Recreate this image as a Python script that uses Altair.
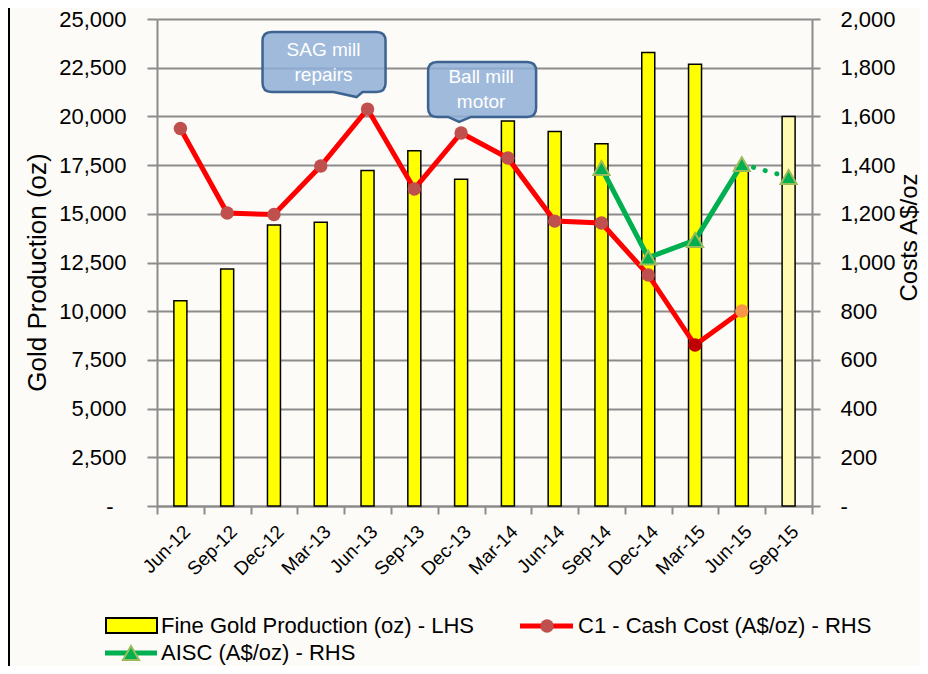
import altair as alt
import pandas as pd

# ---------------- data ----------------
periods = ["Jun-12", "Sep-12", "Dec-12", "Mar-13", "Jun-13", "Sep-13", "Dec-13",
           "Mar-14", "Jun-14", "Sep-14", "Dec-14", "Mar-15", "Jun-15", "Sep-15"]
gold_oz = [10540, 12170, 14430, 14570, 17220, 18240, 16770,
           19760, 19220, 18590, 23280, 22680, 17350, 20000]
forecast_periods = ["Sep-15"]

c1_periods = periods[:13]
c1_cost = [1550, 1203, 1197, 1396, 1630, 1302, 1532, 1429, 1170, 1162, 949, 661, 801]

aisc_periods = ["Sep-14", "Dec-14", "Mar-15", "Jun-15"]
aisc_cost = [1388, 1020, 1092, 1404]
aisc_fc_periods = ["Jun-15", "Sep-15"]
aisc_fc_cost = [1404, 1351]

annot_periods = ["Jun-13", "Dec-13"]
annot_texts = ["SAG mill\nrepairs", "Ball mill\nmotor"]

legend_labels = ["Fine Gold Production (oz) - LHS",
                 "C1 - Cash Cost (A$/oz) - RHS",
                 "AISC (A$/oz) - RHS"]

left_title = "Gold Production (oz)"
right_title = "Costs A$/oz"

# ---------------- styles ----------------
FONT = "Liberation Sans"
GRID = "#8c8c8c"
BG = "#fcfbf7"
W, H = 655, 487

gold_df = pd.DataFrame({
    "period": periods,
    "oz": gold_oz,
    "kind": ["Forecast" if p in forecast_periods else "Actual" for p in periods],
})
c1_df = pd.DataFrame({"period": c1_periods, "cost": c1_cost})
point_color = {"Mar-15": "#c00000", "Jun-15": "#f79646"}
c1_df["pc"] = [p if p in point_color else "other" for p in c1_periods]
aisc_df = pd.DataFrame({"period": aisc_periods, "cost": aisc_cost})
aisc_fc_df = pd.DataFrame({"period": aisc_fc_periods, "cost": aisc_fc_cost})
ann_df = pd.DataFrame({
    "period": annot_periods,
    "cost": [c1_cost[c1_periods.index(p)] for p in annot_periods],
    "text": annot_texts,
})

xscale = alt.Scale(domain=periods, paddingInner=0, paddingOuter=0)
x_axis = alt.Axis(title=None, labelAngle=-45, labelAlign="right", labelBaseline="top",
                  labelFont=FONT, labelFontSize=19, labelColor="#000",
                  tickBand="extent", tickColor=GRID, tickSize=8, tickWidth=2,
                  domainColor=GRID, domainWidth=2, labelPadding=8, grid=False)
X = alt.X("period:N", sort=periods, scale=xscale, axis=x_axis)

yl_scale = alt.Scale(domain=[0, 25000], nice=False, zero=True)
yr_scale = alt.Scale(domain=[0, 2000], nice=False, zero=True)

left_axis = alt.Axis(
    title=left_title, values=list(range(0, 25001, 2500)),
    labelExpr="datum.value == 0 ? '-' : format(datum.value, ',')",
    labelFont=FONT, labelFontSize=22, labelColor="#000",
    labelPadding={"condition": {"test": "datum.value == 0", "value": 34}, "value": 21},
    tickColor=GRID, tickSize=10, tickWidth=2, domainColor=GRID, domainWidth=2,
    grid=True, gridColor=GRID, gridWidth=2,
    titleFont=FONT, titleFontSize=26, titleFontWeight="normal", titleColor="#000",
    titleAngle=-90, titleX=-112, titleY=253, titleAlign="center", titleBaseline="alphabetic",
)
right_axis = alt.Axis(
    title=right_title, orient="right", values=list(range(0, 2001, 200)),
    labelExpr="datum.value == 0 ? '-' : format(datum.value, ',')",
    labelFont=FONT, labelFontSize=22, labelColor="#000", labelPadding=20,
    tickColor=GRID, tickSize=8, tickWidth=2, domainColor=GRID, domainWidth=2,
    grid=False,
    titleFont=FONT, titleFontSize=24, titleFontWeight="normal", titleColor="#000",
    titleAngle=-90, titleX=104, titleY=218, titleAlign="center", titleBaseline="alphabetic",
)

bars = alt.Chart(gold_df).mark_bar(width=13, stroke="#000", strokeWidth=1.5).encode(
    x=X,
    y=alt.Y("oz:Q", scale=yl_scale, axis=left_axis),
    fill=alt.Fill("kind:N", scale=alt.Scale(domain=["Actual", "Forecast"],
                                            range=["#ffff00", "#fffab0"]), legend=None),
)

YR = alt.Y("cost:Q", scale=yr_scale, axis=right_axis)

c1_line = alt.Chart(c1_df).mark_line(color="#ff0000", strokeWidth=5).encode(x=X, y=YR)
c1_pts = alt.Chart(c1_df).mark_point(filled=True, size=180, opacity=1).encode(
    x=X, y=YR,
    color=alt.Color("pc:N", scale=alt.Scale(domain=list(point_color) + ["other"],
                                            range=list(point_color.values()) + ["#c0504d"]),
                    legend=None),
)
aisc_line = alt.Chart(aisc_df).mark_line(color="#00b050", strokeWidth=5).encode(x=X, y=YR)
aisc_fc = alt.Chart(aisc_fc_df).mark_line(color="#00b050", strokeWidth=5,
                                           strokeDash=[0.1, 12], strokeCap="round").encode(x=X, y=YR)
aisc_pts = alt.Chart(pd.concat([aisc_df, aisc_fc_df.iloc[1:]])).mark_point(
    shape="triangle-up", filled=True, size=260, fill="#00b050", stroke="#9bbb59",
    strokeWidth=2, opacity=1).encode(x=X, y=YR)


def callout(L, R, T, B, bl, br, tx, ty, r=9):
    s = 100.0
    f = lambda v: f"{v / s:.3f}"
    return (f"M{f(L + r)},{f(T)} L{f(R - r)},{f(T)} Q{f(R)},{f(T)} {f(R)},{f(T + r)} "
            f"L{f(R)},{f(B - r)} Q{f(R)},{f(B)} {f(R - r)},{f(B)} L{f(br)},{f(B)} "
            f"L{f(tx)},{f(ty)} L{f(bl)},{f(B)} L{f(L + r)},{f(B)} "
            f"Q{f(L)},{f(B)} {f(L)},{f(B - r)} L{f(L)},{f(T + r)} Q{f(L)},{f(T)} {f(L + r)},{f(T)} Z")


shapes = [callout(-105, 18, -77, -17, -34, -5, -11, -12),
          callout(-33, 75, -71, -16, -13, 10, -2, -11)]
text_offsets = [(-44, -59), (20, -56)]

ann_layers = []
for i, p in enumerate(annot_periods):
    d = ann_df[ann_df["period"] == p]
    box = alt.Chart(d).mark_point(shape=shapes[i], size=40000, filled=True,
                                  fill="#8eaed6", fillOpacity=0.85, stroke="#3d6391",
                                  strokeWidth=2.5, opacity=1).encode(x=X, y=YR)
    txt = alt.Chart(d).mark_text(font=FONT, fontSize=19, color="#ffffff", lineBreak="\n",
                                 lineHeight=25, align="center", baseline="middle",
                                 dx=text_offsets[i][0], dy=text_offsets[i][1]).encode(
        x=X, y=YR, text="text:N")
    ann_layers += [box, txt]

# ---------------- legend ----------------
one = pd.DataFrame({"k": [0]})
LFS = 22
ROW1, ROW2 = 607, 634
leg_rect = alt.Chart(one).mark_rect(fill="#ffff00", stroke="#000", strokeWidth=2).encode(
    x=alt.value(-51), x2=alt.value(0), y=alt.value(ROW1 - 8), y2=alt.value(ROW1 + 7))
leg_t1 = alt.Chart(one).mark_text(text=legend_labels[0], font=FONT, fontSize=LFS, align="left",
                                  baseline="middle", color="#000").encode(
    x=alt.value(4), y=alt.value(ROW1))
leg_red = alt.Chart(one).mark_rule(color="#ff0000", strokeWidth=5).encode(
    x=alt.value(363), x2=alt.value(416), y=alt.value(ROW1))
leg_redpt = alt.Chart(one).mark_point(filled=True, size=180, color="#c0504d", opacity=1).encode(
    x=alt.value(390), y=alt.value(ROW1))
leg_t2 = alt.Chart(one).mark_text(text=legend_labels[1], font=FONT, fontSize=LFS, align="left",
                                  baseline="middle", color="#000").encode(
    x=alt.value(421), y=alt.value(ROW1))
leg_green = alt.Chart(one).mark_rule(color="#00b050", strokeWidth=5).encode(
    x=alt.value(-52), x2=alt.value(0), y=alt.value(ROW2))
leg_tri = alt.Chart(one).mark_point(shape="triangle-up", filled=True, size=260, fill="#00b050",
                                    stroke="#9bbb59", strokeWidth=2, opacity=1).encode(
    x=alt.value(-26), y=alt.value(ROW2))
leg_t3 = alt.Chart(one).mark_text(text=legend_labels[2], font=FONT, fontSize=LFS, align="left",
                                  baseline="middle", color="#000").encode(
    x=alt.value(4), y=alt.value(ROW2))

# frame line at the left edge of the picture
frame = alt.Chart(one).mark_rule(color="#000", strokeWidth=2).encode(
    x=alt.value(-148), y=alt.value(-11), y2=alt.value(H + 160))

right_layer = alt.layer(c1_line, c1_pts, aisc_line, aisc_fc, aisc_pts, *ann_layers,
                        leg_rect, leg_t1, leg_red, leg_redpt, leg_t2, leg_green, leg_tri, leg_t3,
                        frame)

chart = alt.layer(bars, right_layer).resolve_scale(y="independent").properties(
    width=W, height=H, autosize="none",
    padding={"left": 149, "top": 11, "right": 108, "bottom": 160},
    background=BG,
).configure_view(stroke=None)

chart.save("out.html", embed_options={"renderer": "svg", "actions": False})
